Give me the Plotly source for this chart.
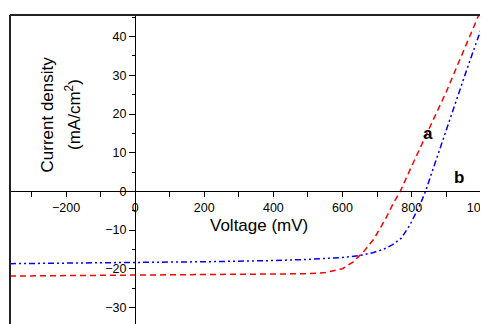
import plotly.graph_objects as go

# Data
voltage_a = [-362, -200, 0, 200, 400, 500, 550, 600, 630, 660, 690, 723, 747, 767, 800, 850, 900, 950, 1000]
current_a = [-21.9, -21.8, -21.7, -21.6, -21.5, -21.3, -21.0, -20.0, -18.3, -15.7, -12.4, -7.4, -3.1, 0, 6.5, 15.9, 25.7, 36.3, 46.8]

voltage_b = [-362, -200, 0, 200, 400, 500, 600, 650, 690, 720, 745, 770, 795, 810, 825, 840, 870, 900, 930, 960, 990, 1018]
current_b = [-18.7, -18.6, -18.4, -18.2, -17.9, -17.6, -17.1, -16.6, -15.8, -14.9, -13.8, -12.1, -8.7, -5.9, -3.3, 0, 8.0, 16.0, 23.8, 31.6, 39.2, 46.3]

x_ticks = [-200, 0, 200, 400, 600, 800, 1000]
y_ticks = [-30, -20, -10, 0, 10, 20, 30, 40]

FONT = "Arial, Liberation Sans, sans-serif"

# page body has an 8px margin: the figure is drawn offset by 8px
W, H = 480, 316
ML, MR, MT, MB = 2, 1, 7, 0
PW, PH = W - ML - MR, H - MT - MB


def px(xw):  # window pixel x -> paper
    return (xw - 8 - ML) / PW


def py(yw):  # window pixel y -> paper
    return 1 - (yw - 8 - MT) / PH


fig = go.Figure()
fig.add_trace(go.Scatter(x=voltage_a, y=current_a, mode="lines",
                         line=dict(color="#ff0000", width=1.5, dash="6px,4px"),
                         showlegend=False))
fig.add_trace(go.Scatter(x=voltage_b, y=current_b, mode="lines",
                         line=dict(color="#0000ff", width=1.5, dash="6px,3px,2px,3px,2px,3px"),
                         showlegend=False))

fig.update_layout(
    width=W, height=H,
    margin=dict(l=ML, r=MR, t=MT, b=MB, autoexpand=False),
    paper_bgcolor="white", plot_bgcolor="white",
    font=dict(family=FONT, color="black", size=12.5),
    xaxis=dict(range=[-362, 1018], anchor="free", position=py(191.3), automargin=False,
               showgrid=False, zeroline=False, showline=True, linecolor="black", linewidth=1.2,
               tickmode="array", tickvals=x_ticks, ticks="outside", ticklen=5, tickwidth=1,
               tickcolor="black", tickfont=dict(size=12.5, family=FONT), ticklabeloverflow="allow",
               minor=dict(dtick=100, tick0=0, ticks="outside", ticklen=5, tickcolor="black", tickwidth=1)),
    yaxis=dict(range=[-34.3, 45.6], anchor="free", position=px(135), automargin=False,
               showgrid=False, zeroline=False, showline=True, linecolor="black", linewidth=1.2,
               tickmode="array", tickvals=y_ticks, ticks="outside", ticklen=6, tickwidth=1,
               tickcolor="black", tickfont=dict(size=12.5, family=FONT), ticklabeloverflow="allow",
               minor=dict(dtick=5, tick0=0, ticks="outside", ticklen=3, tickcolor="black", tickwidth=1)),
    shapes=[
        dict(type="line", xref="paper", yref="paper", x0=0, y0=0, x1=0, y1=1, line=dict(color="#222", width=2)),
        dict(type="line", xref="paper", yref="paper", x0=0, y0=1, x1=1, y1=1, line=dict(color="#222", width=2)),
        dict(type="line", xref="paper", yref="paper", x0=1, y0=1, x1=1, y1=0, line=dict(color="#bbb", width=1)),
    ],
    annotations=[
        dict(text="Voltage (mV)", x=px(259), y=py(225), xref="paper", yref="paper",
             yanchor="middle", xanchor="center", showarrow=False, font=dict(size=17, family=FONT)),
        dict(text="Current density", textangle=-90, x=px(47), y=py(114.5),
             xref="paper", yref="paper", xanchor="center", yanchor="middle", showarrow=False,
             font=dict(size=17, family=FONT)),
        dict(text="(mA/cm<sup>2</sup>)", textangle=-90, x=px(73), y=py(115),
             xref="paper", yref="paper", xanchor="center", yanchor="middle", showarrow=False,
             font=dict(size=17, family=FONT)),
        dict(text="<b>a</b>", x=px(435), y=py(133), xref="paper", yref="paper", showarrow=False,
             font=dict(size=17, family=FONT)),
        dict(text="<b>b</b>", x=px(466), y=py(178), xref="paper", yref="paper", showarrow=False,
             font=dict(size=17, family=FONT)),
    ],
)

fig.write_html("out.html")
